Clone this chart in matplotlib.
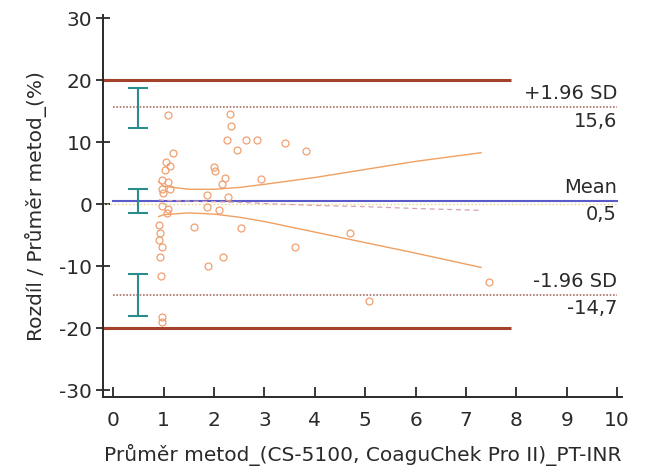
import matplotlib
matplotlib.use("Agg")
import matplotlib.pyplot as plt

plt.rcParams["font.family"] = ["DejaVu Sans"]
plt.rcParams["axes.unicode_minus"] = False

# Bland-Altman data
mean_x = [1.09, 2.32, 2.34, 2.26, 2.64, 2.86, 3.41, 3.83, 2.46, 1.19,
          1.05, 1.13, 1.03, 2.00, 2.02, 2.22, 2.94, 2.16, 0.97, 1.09,
          0.97, 1.13, 0.99, 1.87, 2.27, 0.97, 1.09, 1.07, 1.86, 2.09,
          0.90, 1.60, 2.54, 0.93, 0.90, 0.97, 3.61, 0.92, 2.18, 1.88,
          0.95, 0.97, 0.97, 4.70, 5.08, 7.46]
diff_pct = [14.4, 14.6, 12.6, 10.4, 10.4, 10.4, 9.9, 8.5, 8.7, 8.2,
            6.8, 6.1, 5.5, 6.0, 5.3, 4.3, 4.0, 3.2, 3.9, 3.5,
            2.4, 2.4, 1.8, 1.5, 1.1, -0.3, -0.7, -1.4, -0.4, -1.0,
            -3.3, -3.7, -3.9, -4.6, -5.7, -6.9, -6.9, -8.5, -8.5, -10.0,
            -11.6, -18.2, -19.0, -4.6, -15.6, -12.5]

mean_diff = 0.5
upper_loa = 15.6
lower_loa = -14.7
limit_max = 20
ci_x = 0.5
ci_mean = (-1.5, 2.5)
ci_upper = (12.3, 18.7)
ci_lower = (-18.1, -11.2)

# regression of differences with confidence band
reg_x = [0.9, 1.0, 1.5, 2.0, 2.5, 3.0, 4.0, 5.0, 6.0, 7.3]
reg_mid = [0.7, 0.6, 0.5, 0.4, 0.3, 0.1, -0.2, -0.4, -0.7, -1.0]
reg_hi = [3.6, 2.9, 2.4, 2.4, 2.7, 3.2, 4.3, 5.6, 6.9, 8.3]
reg_lo = [-2.0, -1.7, -1.4, -1.6, -2.1, -2.8, -4.5, -6.2, -7.9, -10.2]

text_col = "#2a2a2a"
fs = 14.5

fig = plt.figure(figsize=(6.66, 4.72), dpi=100)
ax = fig.add_axes([0.155, 0.159, 0.779, 0.809])

ax.plot([-0.2, 7.9], [limit_max, limit_max], color="#a5412b", lw=2.2, solid_capstyle="butt")
ax.plot([-0.2, 7.9], [-limit_max, -limit_max], color="#a5412b", lw=2.2, solid_capstyle="butt")
ax.plot([-0.2, 10.0], [0, 0], color="#e6d48a", lw=1.0, ls=":")
ax.plot([0, 10.0], [upper_loa, upper_loa], color="#a87060", lw=1.2, ls=(0, (1, 1)))
ax.plot([0, 10.0], [lower_loa, lower_loa], color="#a87060", lw=1.2, ls=(0, (1, 1)))
ax.plot([0, 10.0], [mean_diff, mean_diff], color="#5a5ac8", lw=1.5)

ax.plot(reg_x, reg_mid, color="#d9a0b4", lw=0.9, ls=(0, (4, 3)))
ax.plot(reg_x, reg_hi, color="#f0a060", lw=1.0)
ax.plot(reg_x, reg_lo, color="#f0a060", lw=1.0)

for lo, hi in (ci_upper, ci_mean, ci_lower):
    mid = (lo + hi) / 2
    ax.errorbar([ci_x], [mid], yerr=[[mid - lo], [hi - mid]], fmt="none",
                ecolor="#2b8c8c", elinewidth=1.5, capsize=7.5, capthick=1.5)

ax.plot(mean_x, diff_pct, "o", ms=5, mfc="none", mec="#f0a070", mew=0.9)

labels = [(upper_loa, "+1.96 SD", "15,6"),
          (mean_diff, "Mean", "0,5"),
          (lower_loa, "-1.96 SD", "-14,7")]
for yv, top, bottom in labels:
    ax.annotate(top, (10.0, yv), xytext=(0, 3), textcoords="offset points",
                ha="right", va="bottom", fontsize=fs - 0.5, color=text_col)
    ax.annotate(bottom, (10.0, yv), xytext=(0, -3), textcoords="offset points",
                ha="right", va="top", fontsize=fs - 0.5, color=text_col)

ax.set_xlim(-0.2, 10.1)
ax.set_ylim(-31.1, 30.5)
ax.set_xticks(range(0, 11))
ax.set_yticks(range(-30, 31, 10))
for s in ("top", "right"):
    ax.spines[s].set_visible(False)
for s in ("left", "bottom"):
    ax.spines[s].set_color(text_col)
    ax.spines[s].set_linewidth(1.4)
ax.tick_params(axis="x", direction="in", length=7, width=1.3, colors=text_col,
               labelsize=fs, pad=10)
ax.tick_params(axis="y", direction="inout", length=10, width=1.3, colors=text_col,
               labelsize=fs, pad=3)
ax.set_xlabel("Průměr metod_(CS-5100, CoaguChek Pro II)_PT-INR", fontsize=fs,
              color=text_col, labelpad=10)
ax.set_ylabel("Rozdíl / Průměr metod_(%)", fontsize=fs, color=text_col, labelpad=9)

fig.savefig("out.png", dpi=100)
